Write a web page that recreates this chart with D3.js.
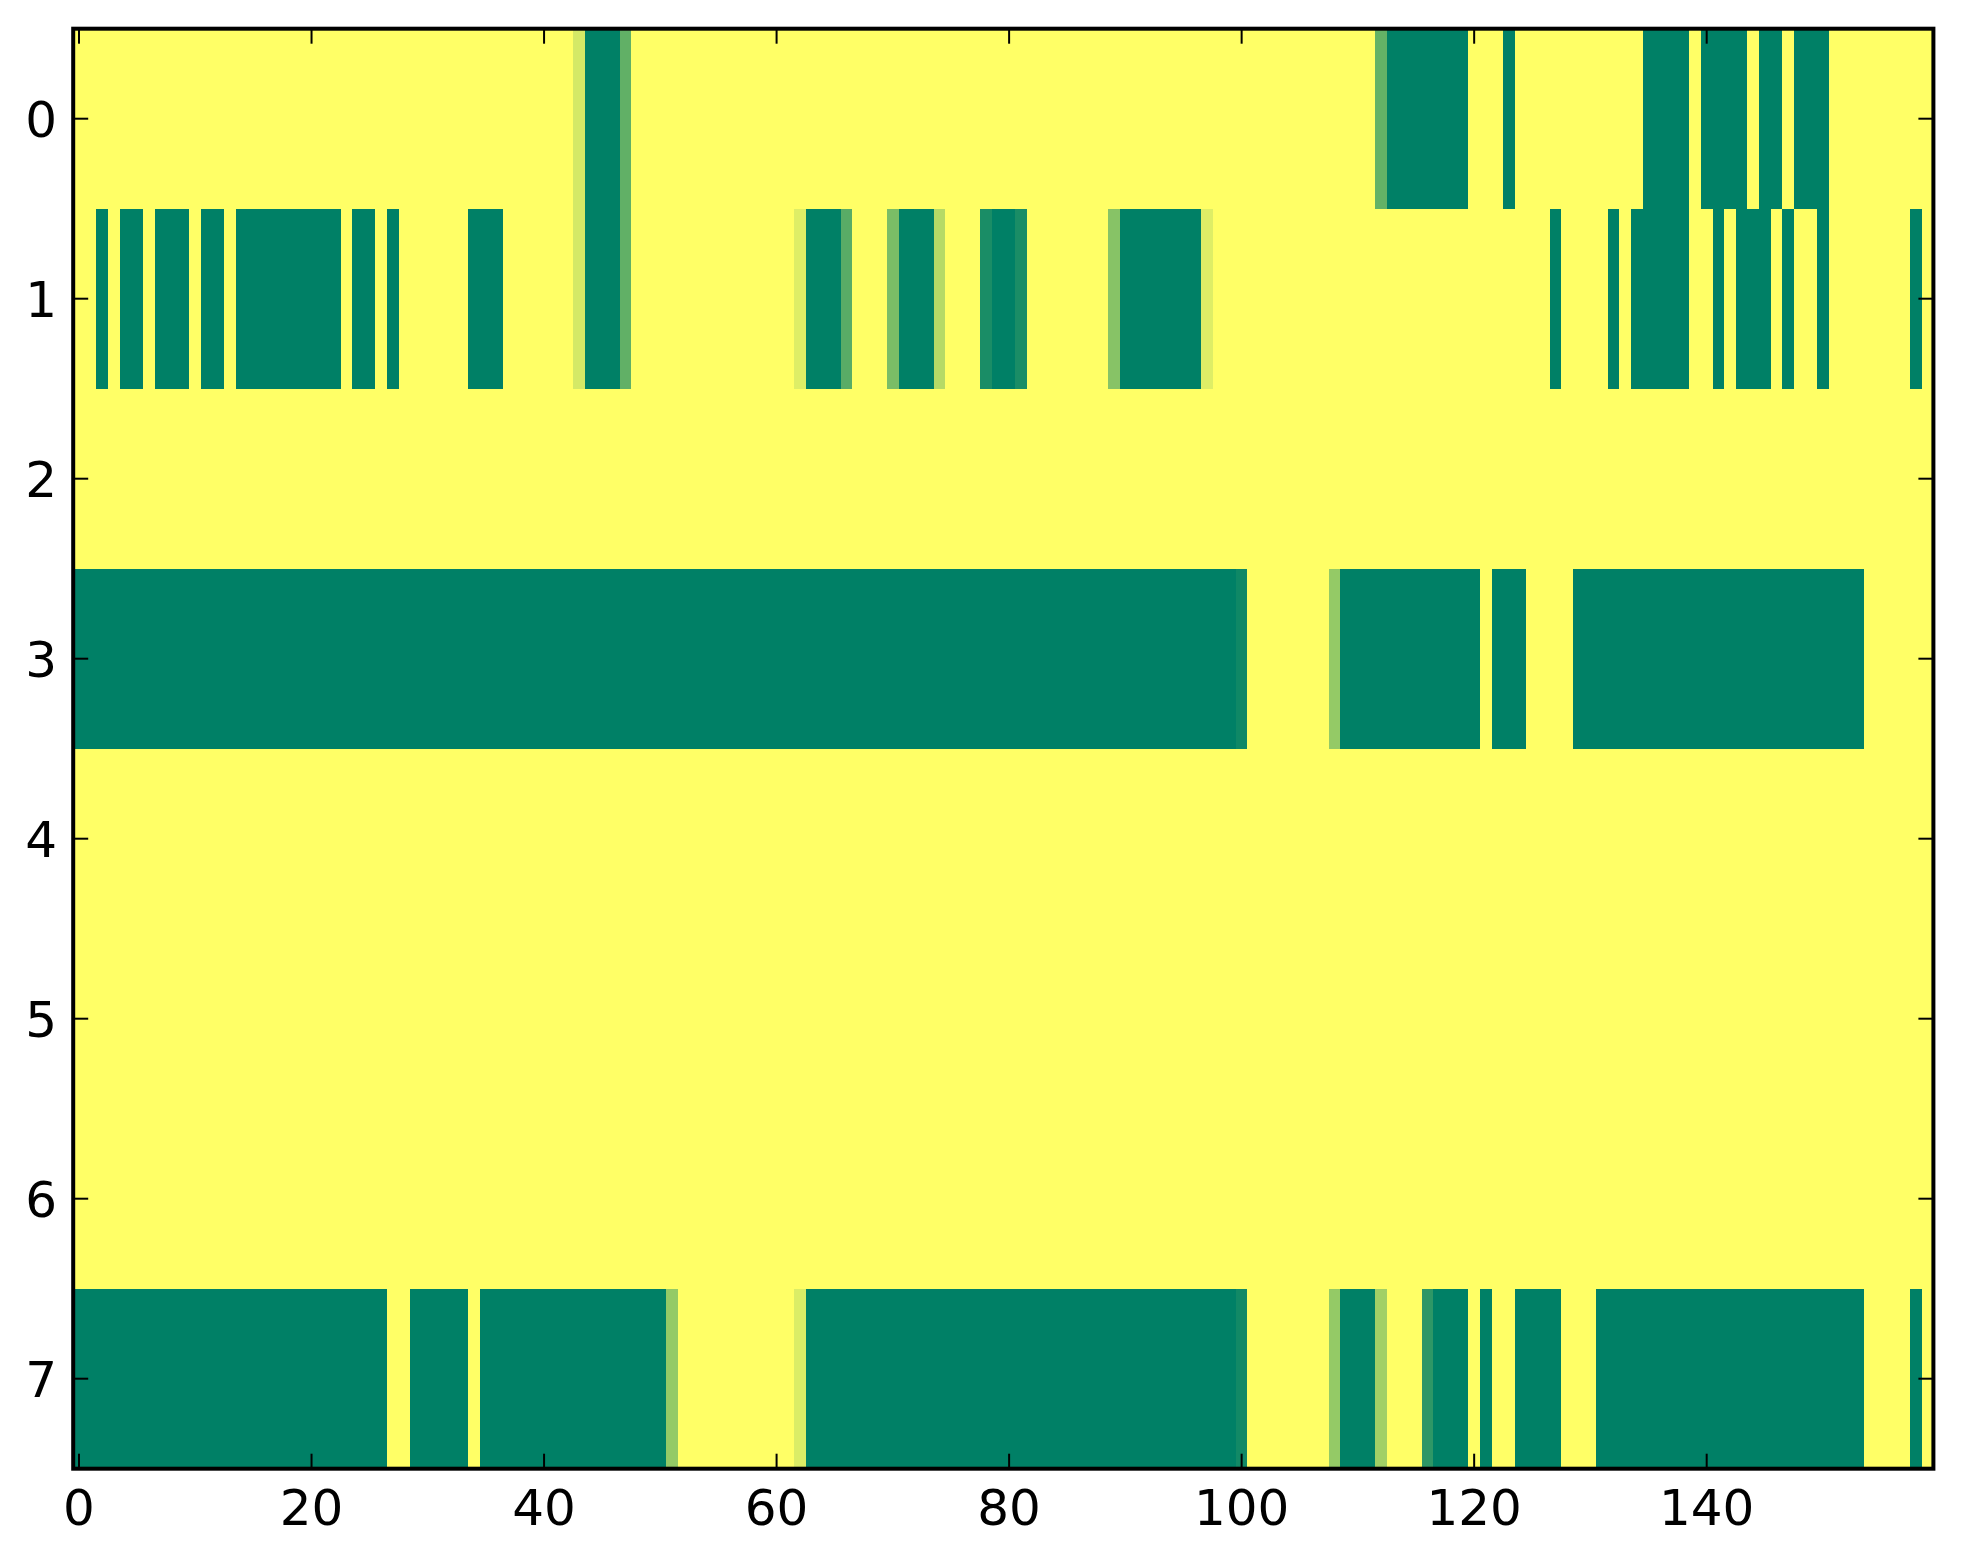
<!DOCTYPE html>
<html>
<head>
<meta charset="utf-8">
<script src="https://cdn.jsdelivr.net/npm/d3@7"></script>
<style>
  html, body { margin: 0; padding: 0; background: #fff; }
  text { font-family: "DejaVu Sans", sans-serif; }
</style>
</head>
<body>
<div class="heatmap"></div>
<script>
// column count and tick labels
const nCols = 160;
const rowLabels = [0, 1, 2, 3, 4, 5, 6, 7];
const xTicks = [0, 20, 40, 60, 80, 100, 120, 140];

// non-zero cells per row: [fromCol, toCol, value] (everything else is 0)
const row0 = [[43, 43, 0.17], [44, 46, 1], [47, 47, 0.62], [112, 112, 0.61], [113, 119, 1],
  [123, 123, 1], [135, 138, 1], [140, 143, 1], [145, 146, 1], [148, 150, 1]];
const row1 = [[2, 2, 1], [4, 5, 1], [7, 9, 1], [11, 12, 1], [14, 22, 1], [24, 25, 1], [27, 27, 1],
  [34, 36, 1], [43, 43, 0.17], [44, 46, 1], [47, 47, 0.62], [62, 62, 0.13], [63, 65, 1],
  [66, 66, 0.65], [70, 70, 0.52], [71, 73, 1], [74, 74, 0.29], [78, 78, 0.9], [79, 80, 1],
  [81, 81, 0.9], [89, 89, 0.47], [90, 96, 1], [97, 97, 0.13], [127, 127, 1], [132, 132, 1],
  [134, 138, 1], [141, 141, 1], [143, 145, 1], [147, 147, 1], [150, 150, 1], [158, 158, 1]];
const row2 = [];
const row3 = [[0, 99, 1], [100, 100, 0.94], [108, 108, 0.42], [109, 120, 1], [122, 124, 1],
  [129, 153, 1]];
const row4 = [];
const row5 = [];
const row6 = [];
const row7 = [[0, 26, 1], [29, 33, 1], [35, 50, 1], [51, 51, 0.42], [62, 62, 0.14], [63, 99, 1],
  [100, 100, 0.93], [108, 108, 0.42], [109, 111, 1], [112, 112, 0.37], [116, 116, 0.82],
  [117, 119, 1], [121, 121, 1], [124, 127, 1], [131, 153, 1], [158, 158, 1]];

const rows = [row0, row1, row2, row3, row4, row5, row6, row7];

// expand into a flat cell list
const cells = [];
rows.forEach((segs, r) => {
  const vals = new Array(nCols).fill(0);
  segs.forEach(([a, b, v]) => {
    for (let c = a; c <= b; c++) vals[c] = v;
  });
  vals.forEach((v, c) => cells.push({ row: r, col: c, value: v }));
});

const W = 1963, H = 1564;
const box = { left: 73.2, right: 1933.4, top: 28.7, bottom: 1468.7 };

const svg = d3.select(".heatmap")
  .append("svg")
  .attr("width", W)
  .attr("height", H);

const x = d3.scaleLinear().domain([-0.5, nCols - 0.5]).range([box.left, box.right]);
const y = d3.scaleLinear().domain([-0.5, rowLabels.length - 0.5]).range([box.top, box.bottom]);

// summer_r colormap: 0 -> yellow, 1 -> green
const color = d3.scaleLinear().domain([0, 1]).range(["#ffff66", "#008066"])
  .interpolate(d3.interpolateRgb);

svg.append("g")
  .attr("shape-rendering", "crispEdges")
  .selectAll("rect")
  .data(cells)
  .enter()
  .append("rect")
  .attr("x", d => x(d.col - 0.5))
  .attr("y", d => y(d.row - 0.5))
  .attr("width", d => x(d.col + 0.5) - x(d.col - 0.5) + 0.5)
  .attr("height", d => y(d.row + 0.5) - y(d.row - 0.5) + 0.5)
  .attr("fill", d => color(d.value));

const tickLen = 15;

// inward ticks on all four sides
const ticks = svg.append("g").attr("stroke", "#000").attr("stroke-width", 2);
xTicks.forEach(t => {
  ticks.append("line").attr("x1", x(t)).attr("x2", x(t)).attr("y1", box.bottom).attr("y2", box.bottom - tickLen);
  ticks.append("line").attr("x1", x(t)).attr("x2", x(t)).attr("y1", box.top).attr("y2", box.top + tickLen);
});
rowLabels.forEach(t => {
  ticks.append("line").attr("y1", y(t)).attr("y2", y(t)).attr("x1", box.left).attr("x2", box.left + tickLen);
  ticks.append("line").attr("y1", y(t)).attr("y2", y(t)).attr("x1", box.right).attr("x2", box.right - tickLen);
});

// frame
svg.append("rect")
  .attr("x", box.left)
  .attr("y", box.top)
  .attr("width", box.right - box.left)
  .attr("height", box.bottom - box.top)
  .attr("fill", "none")
  .attr("stroke", "#000")
  .attr("stroke-width", 4);

// tick labels
svg.append("g")
  .selectAll("text")
  .data(xTicks)
  .enter()
  .append("text")
  .attr("x", d => x(d))
  .attr("y", 1525)
  .attr("text-anchor", "middle")
  .attr("font-size", 50)
  .text(d => d);

svg.append("g")
  .selectAll("text")
  .data(rowLabels)
  .enter()
  .append("text")
  .attr("x", 57)
  .attr("y", d => y(d) + 18)
  .attr("text-anchor", "end")
  .attr("font-size", 50)
  .text(d => d);
</script>
</body>
</html>
